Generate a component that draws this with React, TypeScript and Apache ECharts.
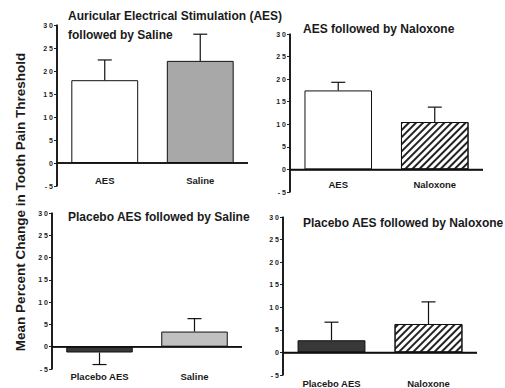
import React, { useEffect, useRef } from "react";
import * as echarts from "echarts";

const panelTitles = [
  ["Auricular Electrical Stimulation (AES)", "followed by Saline"],
  ["AES followed by Naloxone"],
  ["Placebo AES followed by Saline"],
  ["Placebo AES followed by Naloxone"],
];
const panelCategories = [
  ["AES", "Saline"],
  ["AES", "Naloxone"],
  ["Placebo AES", "Saline"],
  ["Placebo AES", "Naloxone"],
];
const panelMeans = [
  [18.0, 22.2],
  [17.5, 10.5],
  [-1.3, 3.4],
  [2.7, 6.3],
];
const panelErrors = [
  [4.4, 5.8],
  [1.8, 3.3],
  [2.7, 2.9],
  [4.0, 4.9],
];
const yTicks = [-5, 0, 5, 10, 15, 20, 25, 30];
const yLabel = "Mean Percent Change in Tooth Pain Threshold";

const grids = [
  { left: 57, top: 25, width: 191, height: 161 },
  { left: 290, top: 34, width: 193, height: 158 },
  { left: 52, top: 213, width: 190, height: 156 },
  { left: 283, top: 217, width: 194, height: 158 },
];
const titlePos = [
  { left: 68, top: 6.5 },
  { left: 303, top: 19.5 },
  { left: 68, top: 207.5 },
  { left: 303, top: 213.5 },
];
const labelMargins = [-11, -13, 2.5, 3];

const hatch = {
  symbol: "rect",
  symbolSize: 1,
  dashArrayX: [[1, 0]],
  dashArrayY: [1.6, 2.6],
  rotation: -Math.PI / 4,
  color: "#222",
  backgroundColor: "#fff",
};

const fills: any[][] = [
  [{ color: "#ffffff" }, { color: "#a8a8a8" }],
  [{ color: "#ffffff" }, { color: "#ffffff", decal: hatch }],
  [{ color: "#383838" }, { color: "#c0c0c0" }],
  [{ color: "#383838" }, { color: "#ffffff", decal: hatch }],
];

export default function App() {
  const ref = useRef<HTMLDivElement>(null);
  useEffect(() => {
    if (!ref.current) return;
    const chart = echarts.init(ref.current, null, { renderer: "svg" });
    const font = "Liberation Sans, Arial, sans-serif";
    const axisStyle = { stroke: "#111", lineWidth: 1.5 };
    const option: any = {
      animation: false,
      backgroundColor: "#fff",
      textStyle: { fontFamily: font },
      title: panelTitles.map((t, i) => ({
        text: t.join("\n"),
        left: titlePos[i].left,
        top: titlePos[i].top,
        padding: 0,
        textStyle: {
          fontSize: 12,
          fontWeight: "bold",
          color: "#1a1a1a",
          lineHeight: 19,
          fontFamily: font,
        },
      })),
      grid: grids,
      xAxis: panelCategories.map((c, i) => ({
        type: "category",
        gridIndex: i,
        data: c,
        axisLine: { show: false, onZero: false },
        axisTick: { show: false },
        axisLabel: {
          margin: labelMargins[i],
          fontSize: 9.5,
          fontWeight: "bold",
          color: "#1a1a1a",
          fontFamily: font,
          interval: 0,
        },
      })),
      yAxis: panelCategories.map((_, i) => ({
        type: "value",
        gridIndex: i,
        min: yTicks[0],
        max: yTicks[yTicks.length - 1],
        interval: 5,
        splitLine: { show: false },
        axisLine: { show: true, onZero: false, lineStyle: { color: "#111", width: 1.5 } },
        axisTick: { show: true, length: 3, lineStyle: { color: "#222", width: 1 } },
        axisLabel: {
          margin: 4,
          fontSize: 7,
          fontWeight: "bold",
          color: "#222",
          fontFamily: font,
          formatter: (v: number) => String(v).split("").join(" "),
        },
      })),
      series: [
        ...panelMeans.map((_, i) => ({
          type: "custom",
          xAxisIndex: i,
          yAxisIndex: i,
          z: 4,
          clip: false,
          data: [[0, 0]],
          renderItem: (params: any, api: any) => {
            const cs = params.coordSys;
            const zeroY = api.coord([0, 0])[1];
            return {
              type: "group",
              children: [
                { type: "line", shape: { x1: cs.x, y1: cs.y, x2: cs.x, y2: cs.y + cs.height }, style: axisStyle },
                { type: "line", shape: { x1: cs.x, y1: zeroY, x2: cs.x + cs.width, y2: zeroY }, style: axisStyle },
              ],
            };
          },
        })),
        ...panelMeans.map((m, i) => ({
          type: "bar",
          xAxisIndex: i,
          yAxisIndex: i,
          barWidth: "70%",
          z: 2,
          data: m.map((v, j) => ({
            value: v,
            itemStyle: {
              color: fills[i][j].color,
              decal: fills[i][j].decal,
              borderColor: "#111",
              borderWidth: 1,
            },
          })),
          markLine: {
            silent: true,
            symbol: ["none", "none"],
            label: { show: false },
            lineStyle: { color: "#111", width: 1.5, type: "solid" },
            data: [{ yAxis: 0 }],
          },
        })),
        ...panelMeans.map((m, i) => ({
          type: "custom",
          xAxisIndex: i,
          yAxisIndex: i,
          z: 5,
          data: m.map((v, j) => [j, v >= 0 ? v + panelErrors[i][j] : v - panelErrors[i][j], v]),
          renderItem: (params: any, api: any) => {
            const x = api.value(0);
            const end = api.coord([x, api.value(1)]);
            const base = api.coord([x, api.value(2)]);
            const style = { stroke: "#111", lineWidth: 1.2 };
            return {
              type: "group",
              children: [
                { type: "line", shape: { x1: base[0], y1: base[1], x2: end[0], y2: end[1] }, style },
                { type: "line", shape: { x1: end[0] - 7, y1: end[1], x2: end[0] + 7, y2: end[1] }, style },
              ],
            };
          },
        })),
      ],
      graphic: [
        {
          type: "text",
          x: 20,
          y: 202,
          rotation: Math.PI / 2,
          style: {
            text: yLabel,
            fontSize: 13.5,
            fontWeight: "bold",
            fill: "#1a1a1a",
            fontFamily: font,
            align: "center",
            verticalAlign: "middle",
          },
        },
      ],
    };
    chart.setOption(option);
    return () => chart.dispose();
  }, []);
  return (
    <div
      ref={ref}
      style={{ position: "fixed", left: 0, top: 0, width: 505, height: 388 }}
    />
  );
}
